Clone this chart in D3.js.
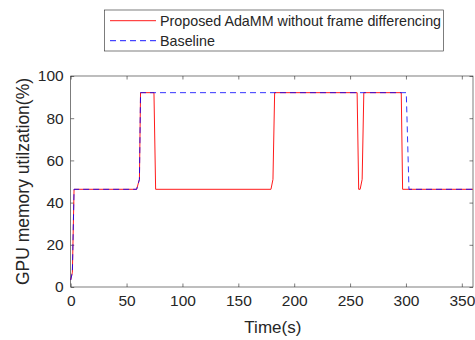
<!DOCTYPE html>
<html>
<head>
<meta charset="utf-8">
<script src="https://cdn.jsdelivr.net/npm/d3@7"></script>
<style>
  body { margin: 0; background: #fff; }
  text { font-family: "Liberation Sans", Arial, sans-serif; fill: #262626; }
</style>
</head>
<body>
<div id="chart"></div>
<script>
// values
const redTime = [0, 1.5, 3, 59, 61.5, 62.5, 74.5, 76, 179.2, 181, 182.5, 256.3, 257.7, 259, 260.8, 262.3, 295.8, 297, 360];
const redUtil = [3.3, 7, 46.3, 46.3, 51, 92.1, 92.1, 46.3, 46.3, 51, 92.1, 92.1, 46.3, 46.3, 51, 92.1, 92.1, 46.3, 46.3];
const blueTime = [0, 1.5, 3, 59, 61.5, 62.5, 300.3, 302.7, 360];
const blueUtil = [3.3, 7, 46.3, 46.3, 51, 92.1, 92.1, 46.3, 46.3];
const xTicks = [0, 50, 100, 150, 200, 250, 300, 350];
const yTicks = [0, 20, 40, 60, 80, 100];
const legendNames = ["Proposed AdaMM without frame differencing", "Baseline"];

const W = 475, H = 340;
const margin = {top: 76, right: 2, bottom: 53, left: 70.7};
const width = W - margin.left - margin.right;
const height = H - margin.top - margin.bottom;

const svg = d3.select("#chart").append("svg")
  .attr("width", W).attr("height", H);

const x = d3.scaleLinear().domain([0, 360]).range([0, width]);
const y = d3.scaleLinear().domain([0, 100]).range([height, 0]);

const g = svg.append("g").attr("transform", `translate(${margin.left},${margin.top})`);

function styleAxis(sel, showText) {
  sel.select(".domain").remove();
  sel.selectAll("line").attr("stroke", "#262626").attr("stroke-width", 0.6);
  sel.selectAll("text").style("font-size", "15.5px").attr("fill", "#262626");
  if (!showText) sel.selectAll("text").remove();
}

// bottom / top / left / right axes with inward ticks
g.append("g").attr("transform", `translate(0,${height})`)
  .call(d3.axisBottom(x).tickValues(xTicks).tickSize(-3.5).tickPadding(8))
  .call(s => styleAxis(s, true));
g.append("g")
  .call(d3.axisTop(x).tickValues(xTicks).tickSize(-3.5))
  .call(s => styleAxis(s, false));
g.append("g")
  .call(d3.axisLeft(y).tickValues(yTicks).tickSize(-3.5).tickPadding(7))
  .call(s => styleAxis(s, true));
g.append("g").attr("transform", `translate(${width},0)`)
  .call(d3.axisRight(y).tickValues(yTicks).tickSize(-3.5))
  .call(s => styleAxis(s, false));

g.append("rect").attr("width", width).attr("height", height)
  .attr("fill", "none").attr("stroke", "#262626").attr("stroke-width", 0.6);

const line = d3.line().x(d => x(d[0])).y(d => y(d[1]));

g.append("path")
  .datum(d3.zip(redTime, redUtil))
  .attr("d", line).attr("fill", "none")
  .attr("stroke", "#ff0000").attr("stroke-width", 0.9);

g.append("path")
  .datum(d3.zip(blueTime, blueUtil))
  .attr("d", line).attr("fill", "none")
  .attr("stroke", "#0000ff").attr("stroke-width", 0.8)
  .attr("stroke-dasharray", "6,4");

// axis labels
svg.append("text")
  .attr("x", margin.left + width / 2 + 1).attr("y", 333)
  .attr("text-anchor", "middle").style("font-size", "17px")
  .text("Time(s)");

svg.append("text")
  .attr("transform", `translate(29,${margin.top + height / 2}) rotate(-90)`)
  .attr("text-anchor", "middle").style("font-size", "17.5px")
  .text("GPU memory utilzation(%)");

// legend
const lg = svg.append("g");
lg.append("rect").attr("x", 104.3).attr("y", 10).attr("width", 339).attr("height", 41)
  .attr("fill", "#fff").attr("stroke", "#262626").attr("stroke-width", 0.6);
const legendRows = lg.selectAll(".row").data(legendNames).enter().append("g")
  .attr("transform", (d, i) => `translate(0,${20.7 + i * 20})`);
legendRows.append("line")
  .attr("x1", 110).attr("x2", 156).attr("y1", 0).attr("y2", 0)
  .attr("stroke", (d, i) => i === 0 ? "#ff0000" : "#0000ff")
  .attr("stroke-width", 0.9)
  .attr("stroke-dasharray", (d, i) => i === 0 ? null : "6,4");
legendRows.append("text")
  .attr("x", 160).attr("y", 5.5)
  .style("font-size", "14.3px")
  .text(d => d);
</script>
</body>
</html>
